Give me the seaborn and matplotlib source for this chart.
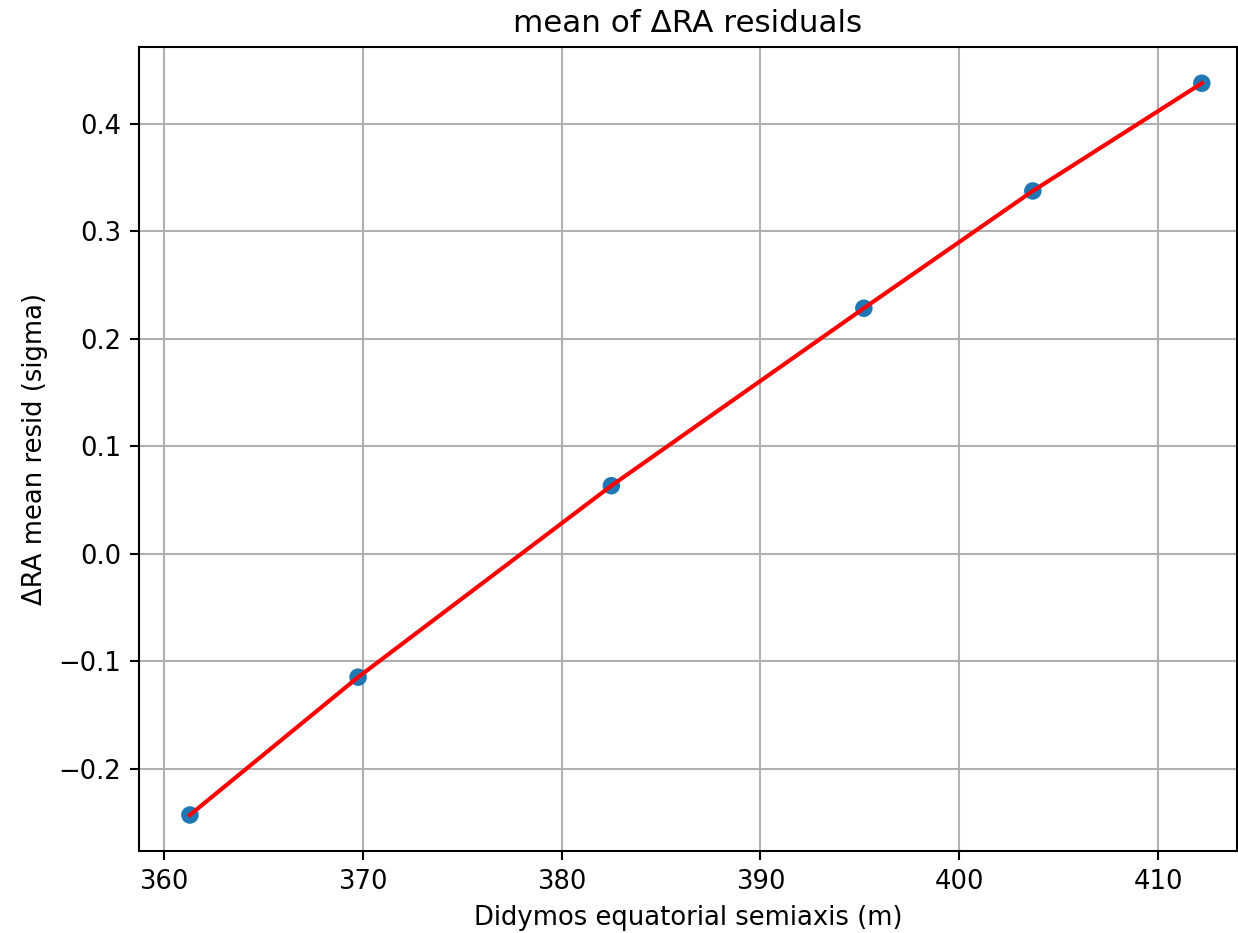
import matplotlib
matplotlib.use("Agg")
import matplotlib.pyplot as plt
import seaborn as sns
import pandas as pd

semiaxis = [361.3, 369.76, 382.5, 395.2, 403.7, 412.2]
mean_resid = [-0.2428, -0.1146, 0.0635, 0.2286, 0.3377, 0.4379]

df = pd.DataFrame({"semiaxis": semiaxis, "resid": mean_resid})

plt.rcdefaults()
DPI = 186
fig = plt.figure(figsize=(1238 / DPI, 933 / DPI), dpi=DPI)
ax = fig.add_axes([139 / 1238, 82 / 933, 1098 / 1238, 804 / 933])
sns.scatterplot(data=df, x="semiaxis", y="resid", ax=ax, color="#1f77b4",
                s=46, edgecolor="none", zorder=3)
sns.lineplot(data=df, x="semiaxis", y="resid", ax=ax, color="red",
             linewidth=1.6, zorder=4, sort=True, estimator=None)
ax.grid(True, color="#b0b0b0", linewidth=0.8)
ax.set_axisbelow(True)
ax.set_xlim(358.74, 413.97)
ax.set_ylim(-0.2763, 0.4716)
ax.set_xlabel("Didymos equatorial semiaxis (m)")
ax.set_ylabel("ΔRA mean resid (sigma)")
ax.set_title("mean of ΔRA residuals")
fig.savefig("out.png", dpi=DPI)
